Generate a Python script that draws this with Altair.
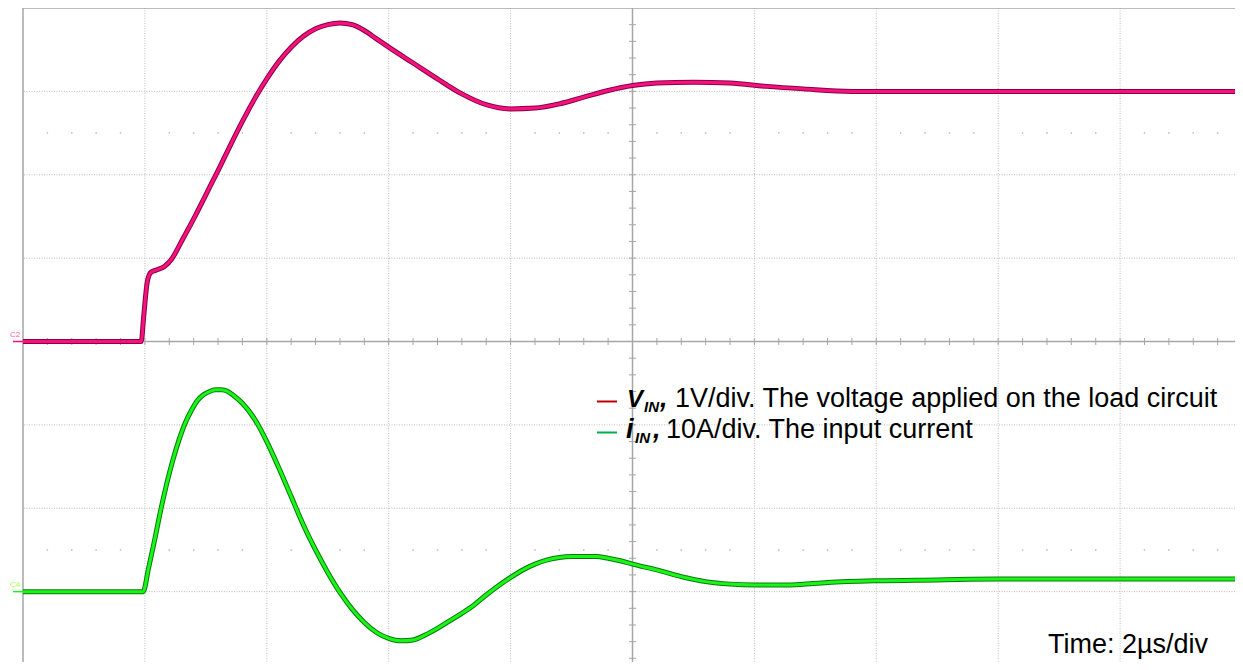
import altair as alt
import pandas as pd

# ---------------- data (time and amplitude in screen divisions; 2 us/div) ----------------
vin_t = [0, 0.97, 0.99, 1.02, 1.05, 1.10, 1.16, 1.22, 1.30, 1.40, 1.50, 1.60, 1.70, 1.80,
         1.90, 2.00, 2.10, 2.20, 2.30, 2.40, 2.50, 2.60, 2.70, 2.80, 2.90, 3.00, 3.20, 3.40,
         3.60, 3.80, 4.00, 4.20, 4.40, 4.60, 4.80, 5.00, 5.20, 5.50, 5.80, 6.10, 6.40, 6.80,
         7.20, 8.00, 9.00, 10.0]
vin_v = [0, 0, 0.30, 0.72, 0.83, 0.86, 0.90, 0.99, 1.20, 1.47, 1.76, 2.05, 2.35, 2.64,
         2.91, 3.15, 3.36, 3.53, 3.66, 3.75, 3.80, 3.82, 3.80, 3.73, 3.63, 3.53, 3.34, 3.15,
         2.97, 2.84, 2.79, 2.80, 2.85, 2.93, 3.01, 3.07, 3.10, 3.11, 3.10, 3.06, 3.03, 3.00,
         3.00, 3.00, 3.00, 3.00]

iin_t = [0, 0.985, 1.03, 1.08, 1.13, 1.18, 1.23, 1.28, 1.33, 1.38, 1.43, 1.48, 1.53, 1.58,
         1.63, 1.68, 1.73, 1.80, 1.90, 2.00, 2.10, 2.20, 2.30, 2.40, 2.50, 2.60, 2.70, 2.80,
         2.90, 3.00, 3.10, 3.20, 3.30, 3.40, 3.50, 3.60, 3.70, 3.80, 3.90, 4.00, 4.10, 4.20,
         4.30, 4.40, 4.50, 4.60, 4.70, 4.80, 4.90, 5.00, 5.20, 5.40, 5.60, 5.80, 6.00, 6.30,
         6.60, 7.00, 7.50, 8.00, 10.0]
iin_v = [-3.0, -3.0, -2.72, -2.38, -2.02, -1.70, -1.42, -1.18, -0.98, -0.83, -0.71, -0.64,
         -0.60, -0.58, -0.58, -0.60, -0.65, -0.74, -0.93, -1.20, -1.52, -1.86, -2.20, -2.50,
         -2.77, -3.01, -3.21, -3.37, -3.49, -3.56, -3.59, -3.58, -3.52, -3.44, -3.35, -3.26,
         -3.16, -3.04, -2.93, -2.83, -2.74, -2.67, -2.62, -2.59, -2.58, -2.58, -2.58, -2.60,
         -2.63, -2.67, -2.74, -2.82, -2.88, -2.91, -2.92, -2.92, -2.89, -2.87, -2.86, -2.85,
         -2.85]

# grid divisions
grid_t = [1, 2, 3, 4, 6, 7, 8, 9]
grid_v = [-4, -3, -2, -1, 1, 2, 3]
frame_t = [0, 10]
frame_v = [4]
minor_t = [round(i * 0.2, 1) for i in range(1, 50)]
minor_v = [round(i * 0.2, 1) for i in range(-19, 20) if i != 0]
marker_t = [x for x in minor_t if abs(x - round(x)) > 1e-6]
marker_v = [2.5, -2.5]

# texts
channel_tags = ["C2", "C4"]
legend_names = ["V", "i"]
legend_subs = ["IN", "IN"]
legend_desc = ["1V/div. The voltage applied on the load circuit",
               "10A/div. The input current"]
time_label = ["Time: 2\u00b5s/div"]

FONT = "Liberation Sans"
GRID = "#bdbdbd"
FRAME = "#a6a6a6"
RX, RY = 1219, 667        # full screen extent of the 10 x 8 division graticule
W, H = 1212, 654          # drawn area (page fits in the window)

X = alt.Scale(domain=[0, 10], nice=False, zero=False, range=[0, RX])
Y = alt.Scale(domain=[-4, 4], nice=False, zero=False, range=[RY, 0])


def xenc(field):
    return alt.X(field, type="quantitative", scale=X, axis=None)


def yenc(field):
    return alt.Y(field, type="quantitative", scale=Y, axis=None)


layers = []

# dotted grid
layers.append(alt.Chart(pd.DataFrame({"t": grid_t})).mark_rule(
    color=GRID, strokeWidth=1, strokeDash=[1, 1.5]).encode(x=xenc("t")))
layers.append(alt.Chart(pd.DataFrame({"v": grid_v})).mark_rule(
    color=GRID, strokeWidth=1, strokeDash=[1, 1.5]).encode(y=yenc("v")))

# frame
layers.append(alt.Chart(pd.DataFrame({"t": frame_t})).mark_rule(
    color=FRAME, strokeWidth=1.5).encode(x=xenc("t")))
layers.append(alt.Chart(pd.DataFrame({"v": frame_v})).mark_rule(
    color=FRAME, strokeWidth=1.5).encode(y=yenc("v")))

# centre cross
layers.append(alt.Chart(pd.DataFrame({"t": [5]})).mark_rule(
    color=FRAME, strokeWidth=1.5).encode(x=xenc("t")))
layers.append(alt.Chart(pd.DataFrame({"v": [0]})).mark_rule(
    color=FRAME, strokeWidth=1.5).encode(y=yenc("v")))

# centre cross minor ticks
layers.append(alt.Chart(pd.DataFrame({"t": minor_t})).mark_rule(
    color=FRAME, strokeWidth=1).encode(
        x=xenc("t"), y=alt.value(RY / 2 - 3.5), y2=alt.value(RY / 2 + 3.5)))
layers.append(alt.Chart(pd.DataFrame({"v": minor_v})).mark_rule(
    color=FRAME, strokeWidth=1).encode(
        y=yenc("v"), x=alt.value(RX / 2 - 3.5), x2=alt.value(RX / 2 + 3.5)))

# rise-time marker dots
mk = pd.DataFrame([(t, v) for v in marker_v for t in marker_t], columns=["t", "v"])
layers.append(alt.Chart(mk).mark_square(size=2, color="#b5b5b5", opacity=1).encode(
    x=xenc("t"), y=yenc("v")))

# traces
vin = pd.DataFrame({"t": vin_t, "v": vin_v})
iin = pd.DataFrame({"t": iin_t, "v": iin_v})
for df, dark, bright in [(vin, "#8a0042", "#f5127f"), (iin, "#0b7a0b", "#19f519")]:
    layers.append(alt.Chart(df).mark_line(color=dark, strokeWidth=5, interpolate="monotone").encode(
        x=xenc("t"), y=yenc("v")))
    layers.append(alt.Chart(df).mark_line(color=bright, strokeWidth=3, interpolate="monotone").encode(
        x=xenc("t"), y=yenc("v")))

# channel tags on the left
tag_colors = ["#ff5fae", "#a8ff3c"]
tag_line_colors = ["#f5127f", "#19f519"]
tag_y = [329, 579]
tag_v = [0, -3]
for i in range(2):
    layers.append(alt.Chart(pd.DataFrame({"label": [channel_tags[i]]})).mark_text(
        font=FONT, fontSize=8, align="left", baseline="alphabetic", color=tag_colors[i]).encode(
            text="label:N", x=alt.value(-13), y=alt.value(tag_y[i])))
    layers.append(alt.Chart(pd.DataFrame({"v": [tag_v[i]]})).mark_rule(
        color=tag_line_colors[i], strokeWidth=1.5).encode(
            y=yenc("v"), x=alt.value(-10), x2=alt.value(0)))

# legend (annotation)
legend_colors = ["#c00000", "#00b050"]
row_base = [399, 430]
name_x = [604, 603]
name_size = [24, 27]
sub_x = [621, 612]
comma_x = [637, 630]
desc_x = [652, 643]
for i in range(2):
    base = row_base[i]
    layers.append(alt.Chart(pd.DataFrame({"k": [i]})).mark_rule(
        color=legend_colors[i], strokeWidth=2).encode(
            x=alt.value(574), x2=alt.value(594), y=alt.value(base - 5.5)))
    layers.append(alt.Chart(pd.DataFrame({"label": [legend_names[i]]})).mark_text(
        font=FONT, fontSize=name_size[i], fontWeight="bold", fontStyle="italic", align="left",
        baseline="alphabetic", color="black").encode(
            text="label:N", x=alt.value(name_x[i]), y=alt.value(base)))
    layers.append(alt.Chart(pd.DataFrame({"label": [legend_subs[i]]})).mark_text(
        font=FONT, fontSize=15, fontWeight="bold", fontStyle="italic", align="left",
        baseline="alphabetic", color="black").encode(
            text="label:N", x=alt.value(sub_x[i]), y=alt.value(base + 5)))
    layers.append(alt.Chart(pd.DataFrame({"label": [","]})).mark_text(
        font=FONT, fontSize=27, fontWeight="bold", fontStyle="italic", align="left",
        baseline="alphabetic", color="black").encode(
            text="label:N", x=alt.value(comma_x[i]), y=alt.value(base)))
    layers.append(alt.Chart(pd.DataFrame({"label": [legend_desc[i]]})).mark_text(
        font=FONT, fontSize=27, align="left", baseline="alphabetic", color="black").encode(
            text="label:N", x=alt.value(desc_x[i]), y=alt.value(base)))

layers.append(alt.Chart(pd.DataFrame({"label": time_label})).mark_text(
    font=FONT, fontSize=27, align="right", baseline="alphabetic", color="black").encode(
        text="label:N", x=alt.value(1185), y=alt.value(645)))

chart = alt.layer(*layers).properties(
    width=W, height=H,
    padding={"left": 15, "top": 0, "right": 0, "bottom": 0},
    autosize=alt.AutoSizeParams(type="none"),
    background="white",
).configure_view(stroke=None)

chart.save("out.html", embed_options={"renderer": "svg", "actions": False})
